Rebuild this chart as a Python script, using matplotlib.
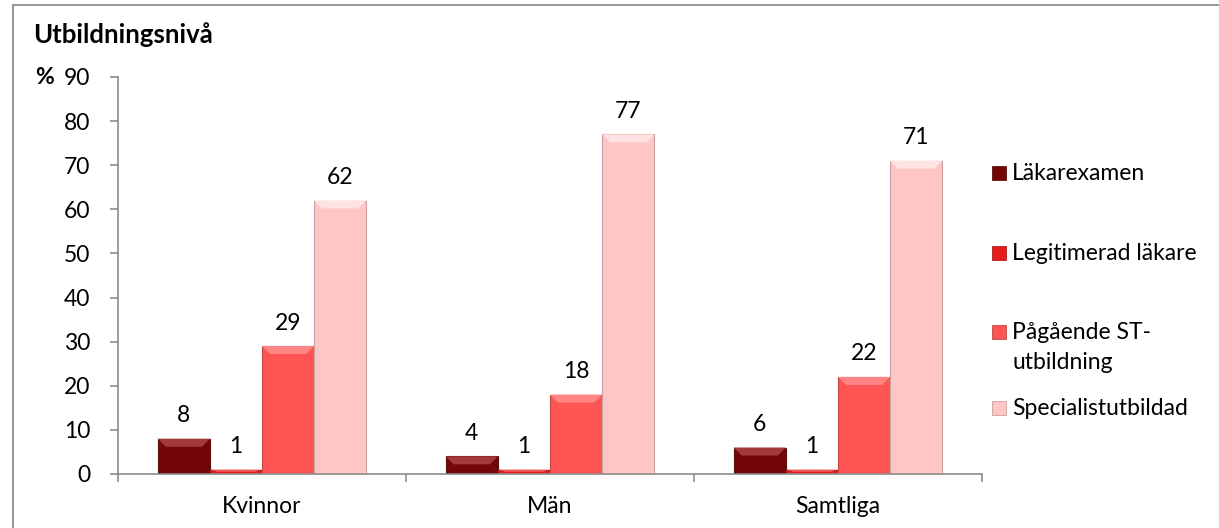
import numpy as np
import matplotlib
matplotlib.use("Agg")
import matplotlib.pyplot as plt
from matplotlib.patches import Rectangle, Polygon

plt.rcParams["font.family"] = ["Lato", "DejaVu Sans"]

# Utbildningsnivå per grupp (%)
kategorier = ["Kvinnor", "Män", "Samtliga"]
serier = ["Läkarexamen", "Legitimerad läkare", "Pågående ST-\nutbildning", "Specialistutbildad"]
lakarexamen = [8, 4, 6]
legitimerad = [1, 1, 1]
pagaende_st = [29, 18, 22]
specialist = [62, 77, 71]
varden = [lakarexamen, legitimerad, pagaende_st, specialist]

farger = ["#730707", "#e51c1c", "#ff5454", "#ffc6c6"]
toppfarger = ["#a23a3a", "#f05a5a", "#ff8585", "#ffe2e2"]
kantfarger = ["#5a1010", "#b02020", "#c04848", "#c9a0a0"]

FS = 16.5
W, H = 1219, 528
fig = plt.figure(figsize=(W / 100, H / 100), dpi=100)

# ram runt hela diagrammet
fig.patches.append(Rectangle((13 / W, -5 / H), (1230 - 13) / W, (523 + 5) / H,
                             transform=fig.transFigure, fill=False,
                             edgecolor="#8c8c8c", linewidth=1.3))

ax = fig.add_axes([118 / W, 1 - 474 / H, (982 - 118) / W, (474 - 77) / H])
ax.set_xlim(-0.5, 2.5)
ax.set_ylim(0, 90)

x = np.arange(len(kategorier))
bredd = 0.181
px_x = 3 / 864
px_y = 90 / 397

for i, (v, f, tf, kf) in enumerate(zip(varden, farger, toppfarger, kantfarger)):
    pos = x + (i - 1.5) * bredd
    stapel = ax.bar(pos, v, bredd, color=f, edgecolor=kf, linewidth=0.8, zorder=2)
    for p, val in zip(stapel.patches, v):
        x0, w, h = p.get_x(), p.get_width(), p.get_height()
        d = min(8 * px_y, h * 0.5)
        dx = 8 * px_x
        # ljusare fasning överst på stapeln
        ax.add_patch(Polygon([(x0, h), (x0 + w, h), (x0 + w - dx, h - d), (x0 + dx, h - d)],
                             closed=True, facecolor=tf, edgecolor="none", zorder=3))
        ax.annotate(str(val), (x0 + w / 2, h), xytext=(0, 9), textcoords="offset points",
                    ha="center", va="bottom", fontsize=FS)

for s in ["top", "right"]:
    ax.spines[s].set_visible(False)
for s in ["left", "bottom"]:
    ax.spines[s].set_color("#8c8c8c")
    ax.spines[s].set_linewidth(1.2)
    ax.spines[s].set_zorder(4)

ax.set_yticks(range(0, 91, 10))
ax.tick_params(axis="y", direction="out", length=6, width=1.2, color="#8c8c8c",
               pad=14, labelsize=FS)
ax.set_xticks(x)
ax.set_xticklabels(kategorier)
ax.tick_params(axis="x", length=0, pad=16, labelsize=FS)
ax.set_xticks([-0.5, 0.5, 1.5, 2.5], minor=True)
ax.tick_params(axis="x", which="minor", direction="out", length=6, width=1.2, color="#8c8c8c")

fig.text(33 / W, 1 - 35 / H, "Utbildningsnivå", fontsize=18.5, fontweight="bold",
         ha="left", va="center")
fig.text(44 / W, 1 - 77 / H, "%", fontsize=FS, fontweight="bold", ha="center", va="center")

# förklaring till höger
legend_y = [173, 253, 332, 408]
for lbl, f, kf, y in zip(serier, farger, kantfarger, legend_y):
    fig.patches.append(Rectangle((992 / W, 1 - (y + 7) / H), 14 / W, 14 / H,
                                 transform=fig.transFigure, facecolor=f,
                                 edgecolor=kf, linewidth=0.6))
    fig.text(1012 / W, 1 - (y - 10) / H, lbl, fontsize=FS, ha="left", va="top",
             linespacing=1.55)

fig.savefig("out.png", dpi=100)
